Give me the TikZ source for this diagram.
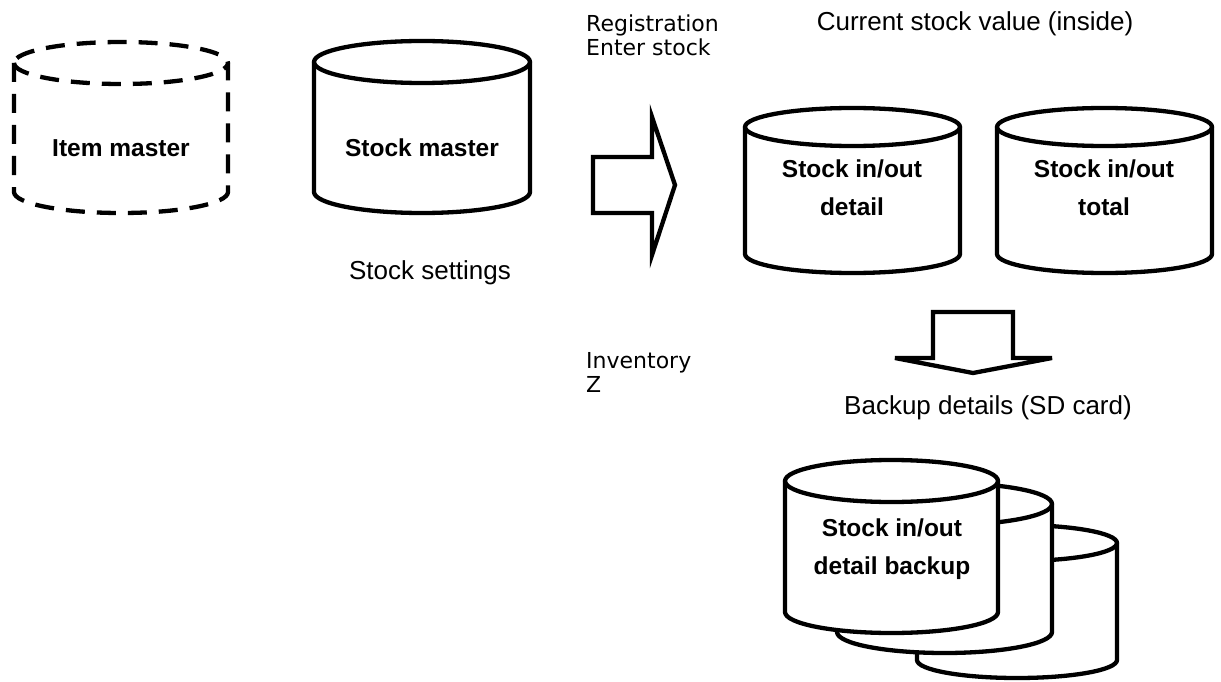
\documentclass[tikz,border=0pt]{standalone}
\usepackage{fontspec}
\setmainfont{Liberation Sans}
\newfontfamily\labfont{DejaVu Sans}
\tikzset{
  cylline/.style={line width=4.3pt, draw=black, fill=white, line join=round},
  dashcyl/.style={dash pattern=on 19pt off 12pt},
  fatarrow/.style={line width=4.3pt, draw=black, fill=white, line join=miter},
  dblabel/.style={font=\bfseries\fontsize{24.5}{38}\selectfont, align=center, inner sep=0pt},
  armlabel/.style={font=\fontsize{26}{30}\selectfont, inner sep=0pt},
  gothlabel/.style={font=\labfont\fontsize{22}{24}\selectfont, align=left, inner sep=0pt, anchor=north west},
}
% #1 extra style, #2 left, #3 right, #4 top, #5 bottom, #6 ry  (pixel coordinates, y downward)
\newcommand\dbcyl[6][]{%
  \pgfmathsetmacro\cylrx{(#3-#2)/2}%
  \filldraw[cylline,#1] (#2,-#4-#6) -- (#2,-#5+#6)
     arc[start angle=180,end angle=360,x radius=\cylrx,y radius=#6]
     -- (#3,-#4-#6)
     arc[start angle=0,end angle=180,x radius=\cylrx,y radius=#6] -- cycle;
  \draw[cylline,fill=none,#1] (#2,-#4-#6)
     arc[start angle=180,end angle=360,x radius=\cylrx,y radius=#6];
}
\begin{document}
\begin{tikzpicture}[x=1pt,y=1pt]
\useasboundingbox (0,0) rectangle (1221,-682);
\fill[white] (0,0) rectangle (1221,-682);

% cylinders
\dbcyl[dashcyl]{14}{228}{42}{213}{21}
\dbcyl{314}{530}{41}{213}{21}
\dbcyl{745}{960}{108}{273}{19}
\dbcyl{997}{1212}{108}{273}{19}
% stacked backup
\dbcyl{917}{1117}{525}{678}{18}
\dbcyl{837}{1052}{483}{653}{21}
\dbcyl{785}{998}{460}{633}{21}

% labels inside cylinders
\node[dblabel] (item) at (121,-148) {Item master};
\node[dblabel] (stockm) at (422,-148) {Stock master};
\node[dblabel] (detail) at (852,-188) {Stock in/out\\detail};
\node[dblabel] (total) at (1104,-188) {Stock in/out\\total};
\node[dblabel] (backup) at (892,-549) {Stock in/out\\detail backup};

% block arrows
\draw[fatarrow] (593,-157) -- (652,-157) -- (652,-117) -- (675,-185) -- (652,-255) -- (652,-213) -- (593,-213) -- cycle;
\draw[fatarrow] (933,-312) -- (1013,-312) -- (1013,-358) -- (1052,-358) -- (973,-373) -- (895,-358) -- (933,-358) -- cycle;

% free labels
\node[armlabel] (cur) at (975,-24) {Current stock value (inside)};
\node[armlabel] (sset) at (430,-273) {Stock settings};
\node[armlabel] (bk) at (988,-408) {Backup details (SD card)};
\node[gothlabel] (reg) at (586,-15) {Registration\\Enter stock};
\node[gothlabel] (inv) at (586,-352) {Inventory\\Z};
\end{tikzpicture}
\end{document}
